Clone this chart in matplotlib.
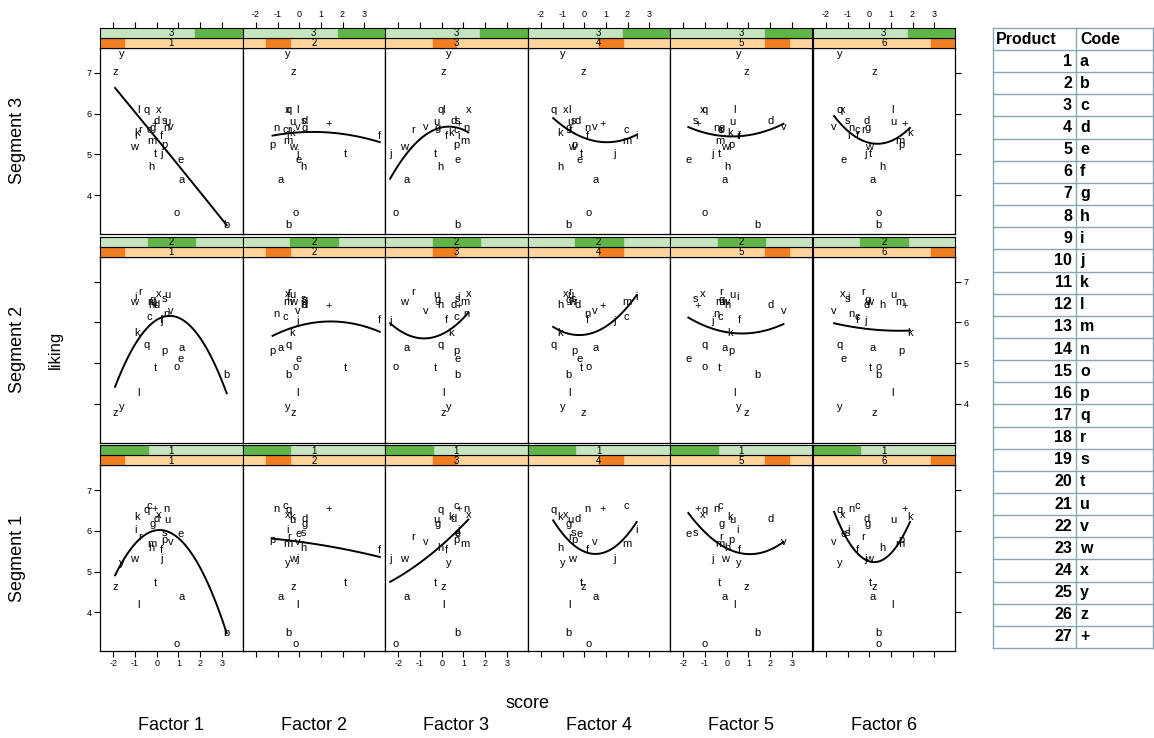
import matplotlib.pyplot as plt
from matplotlib.patches import Rectangle
import numpy as np

plt.rcParams['font.family'] = ['Liberation Sans', 'DejaVu Sans']
plt.rcParams['axes.unicode_minus'] = False

codes = list("abcdefghijklmnopqrstuvwxyz") + ["+"]
products = list(range(1, 28))

# product scores on each factor, order a..z, +
factor1 = [1.15, 3.23, -0.34, 0.00, 1.12, 0.20, -0.20, -0.26, -1.00, 0.20, -0.92, -0.85, -0.23,
           0.46, 0.92, 0.34, -0.46, -0.77, 0.35, -0.08, 0.49, 0.66, -1.05, 0.08, -1.62, -1.92, -0.08]
factor2 = [-0.85, -0.48, -0.63, 0.23, -0.02, 3.72, 0.26, 0.18, -0.55, -0.09, -0.35, -0.08, -0.51,
           -1.05, -0.17, -1.23, -0.48, -0.46, 0.22, 2.14, -0.32, -0.05, -0.28, -0.54, -0.54, -0.25, 1.34]
factor3 = [-1.62, 0.74, 0.69, 0.57, 0.72, 0.20, -0.20, -0.08, 0.77, -2.38, 0.43, 0.08, 1.08,
           1.12, -2.11, 0.66, -0.05, -1.31, 0.72, -0.31, -0.23, -0.72, -1.74, 1.23, 0.31, 0.08, 0.77]
factor4 = [0.54, -0.71, 1.95, -0.31, -0.23, 0.14, -0.74, -1.12, 2.42, 1.42, -1.12, -0.66, 1.98,
           0.14, 0.22, -0.43, -1.43, -0.63, -0.48, -0.15, -0.66, 0.49, -0.54, -0.85, -0.97, -0.02, 0.85]
factor5 = [-0.11, 1.43, -0.31, 2.05, -1.77, 0.57, -0.23, 0.03, 0.49, -0.66, 0.15, 0.35, -0.31,
           -0.46, -1.00, 0.23, -1.00, -0.26, -1.43, -0.35, 0.28, 2.62, -0.08, -1.12, 0.58, 0.92, -1.35]
factor6 = [0.15, 0.42, -0.54, -0.12, -1.20, -0.54, -0.09, 0.60, -0.97, -0.15, 1.88, 1.08, 1.42,
           -0.82, 0.42, 1.49, -1.35, -0.28, -1.00, 0.06, 1.11, -1.62, -0.02, -1.23, -1.35, 0.23, 1.62]
scores = [factor1, factor2, factor3, factor4, factor5, factor6]

# mean liking per segment
liking_seg1 = [4.38, 3.48, 6.61, 6.29, 5.92, 5.53, 6.16, 5.59, 6.03, 5.32, 6.34, 4.17, 5.69,
               6.53, 3.22, 5.77, 6.51, 5.85, 5.94, 4.71, 6.26, 5.72, 5.31, 6.39, 5.22, 4.62, 6.55]
liking_seg2 = [5.36, 4.71, 6.14, 6.43, 5.11, 6.07, 6.55, 6.43, 6.63, 6.04, 5.74, 4.27, 6.50,
               6.20, 4.91, 5.30, 5.44, 6.76, 6.58, 4.87, 6.67, 6.27, 6.51, 6.70, 3.93, 3.78, 6.40]
liking_seg3 = [4.37, 3.26, 5.61, 5.83, 4.85, 5.44, 5.65, 4.69, 5.44, 5.01, 5.52, 6.10, 5.33,
               5.64, 3.56, 5.22, 6.10, 5.60, 5.82, 5.01, 5.80, 5.67, 5.19, 6.10, 7.47, 7.02, 5.75]
liking = {1: liking_seg1, 2: liking_seg2, 3: liking_seg3}
seg_order = [3, 2, 1]

# quadratic smoother per panel: score at an inner point, and fitted liking at
# lowest score / inner point / highest score
smooth_xmid = {3: [0.65, 0.50, -0.15, 0.57, 0.23, 0.42],
               2: [0.54, 1.18, -0.69, -0.20, 0.85, 0.10],
               1: [0.23, 1.18, 0.00, 0.18, 1.08, 0.10]}
smooth_seg3 = [(6.63, 4.96, 3.26), (5.46, 5.55, 5.30), (4.40, 5.64, 5.54),
               (5.89, 5.32, 5.48), (5.67, 5.44, 5.75), (5.94, 5.26, 5.65)]
smooth_seg2 = [(4.42, 6.16, 4.26), (5.67, 6.02, 5.77), (5.98, 5.61, 6.24),
               (5.89, 5.69, 6.67), (6.12, 5.73, 5.96), (5.98, 5.83, 5.80)]
smooth_seg1 = [(4.91, 6.02, 3.49), (5.81, 5.64, 5.36), (4.75, 5.65, 6.28),
               (6.26, 5.46, 6.22), (6.44, 5.43, 5.73), (6.47, 5.24, 6.22)]
smooth_y = {1: smooth_seg1, 2: smooth_seg2, 3: smooth_seg3}

W, H = 1154, 738
fig = plt.figure(figsize=(W / 100, H / 100), dpi=100)


def box(x0, y0, x1, y1):
    return [x0 / W, 1 - y1 / H, (x1 - x0) / W, (y1 - y0) / H]


col_x = [100 + 142.5 * i for i in range(7)]
panel_top = [47.7, 256.5, 465]
panel_h = 186
strip_h = 10
xlim = (-2.617, 3.96)
ylim = (3.05, 7.62)
ticks_x = [-2, -1, 0, 1, 2, 3]
ticks_y = [4, 5, 6, 7]

green_lt, green_dk = '#c6e4bf', '#5fb548'
orange_lt, orange_dk = '#fdd49c', '#f07f23'


def strip(ax, level, nlev, lt, dk):
    ax.set_xlim(*xlim)
    ax.set_ylim(0, 1)
    ax.add_patch(Rectangle((0, 0), 1, 1, transform=ax.transAxes, color=lt, zorder=0))
    ax.add_patch(Rectangle(((level - 1) / nlev, 0), 1 / nlev, 1, transform=ax.transAxes,
                           color=dk, zorder=1))
    ax.text(0.5, 0.45, str(level), transform=ax.transAxes, ha='center', va='center',
            fontsize=7, zorder=2)
    ax.set_xticks([])
    ax.set_yticks([])
    for s in ax.spines.values():
        s.set_linewidth(0.8)


for r, seg in enumerate(seg_order):
    top = panel_top[r]
    for c in range(6):
        x0, x1 = col_x[c], col_x[c + 1]
        ax = fig.add_axes(box(x0, top, x1, top + panel_h))
        ax.set_xlim(*xlim)
        ax.set_ylim(*ylim)
        xs = np.array(scores[c])
        ys = np.array(liking[seg])
        for code, xv, yv in zip(codes, xs, ys):
            ax.text(xv, yv, code, ha='center', va='center', fontsize=8)

        # smoother through its three fitted values
        kx = [xs.min(), smooth_xmid[seg][c], xs.max()]
        coef = np.polyfit(kx, smooth_y[seg][c], 2)
        xg = np.linspace(xs.min(), xs.max(), 120)
        ax.plot(xg, np.polyval(coef, xg), color='black', lw=1.4)
        for s in ax.spines.values():
            s.set_linewidth(0.9)

        ax.tick_params(direction='out', length=4, width=0.8, labelsize=6.5, pad=2)
        ax.set_xticks(ticks_x)
        ax.set_yticks(ticks_y)
        ax.tick_params(axis='x', top=False, labeltop=False,
                       bottom=(r == 2), labelbottom=(r == 2 and c % 2 == 0))
        ax.tick_params(axis='y', left=(c == 0), labelleft=(c == 0 and r != 1),
                       right=(c == 5), labelright=(c == 5 and r == 1))

        # factor strip (lower) and segment strip (upper)
        sf = fig.add_axes(box(x0, top - strip_h, x1, top))
        strip(sf, c + 1, 6, orange_lt, orange_dk)
        sg = fig.add_axes(box(x0, top - 2 * strip_h, x1, top - strip_h))
        strip(sg, seg, 3, green_lt, green_dk)
        if r == 0:
            sg.set_xticks(ticks_x)
            sg.tick_params(axis='x', direction='out', length=4, width=0.8, labelsize=6.5,
                           pad=2, top=True, labeltop=(c % 2 == 1), bottom=False,
                           labelbottom=False)

# overlay in pixel units for labels and the product table
ov = fig.add_axes([0, 0, 1, 1])
ov.set_xlim(0, W)
ov.set_ylim(H, 0)
ov.axis('off')

for r, seg in enumerate(seg_order):
    ov.text(18, panel_top[r] + panel_h / 2, f"Segment {seg}", rotation=90,
            ha='center', va='center', fontsize=13)
ov.text(55, panel_top[1] + panel_h / 2, "liking", rotation=90, ha='center', va='center',
        fontsize=12)
ov.text((col_x[0] + col_x[6]) / 2, 704, "score", ha='center', va='center', fontsize=13)
for c in range(6):
    ov.text((col_x[c] + col_x[c + 1]) / 2, 726, f"Factor {c + 1}", ha='center', va='center',
            fontsize=13)

# product / code table
tx0, tx1, tx2 = 993, 1076, 1153
ty0, ty1 = 28, 50
row_h = 22.15
grid_c = '#86a6b6'
ty_end = ty1 + row_h * len(codes)
for yy in [ty0, ty1] + [ty1 + row_h * (i + 1) for i in range(len(codes))]:
    ov.plot([tx0, tx2], [yy, yy], color=grid_c, lw=1)
for xx in [tx0, tx1, tx2]:
    ov.plot([xx, xx], [ty0, ty_end], color=grid_c, lw=1)
ov.text(996, (ty0 + ty1) / 2, "Product", ha='left', va='center', fontsize=11.5,
        fontweight='bold')
ov.text(1080, (ty0 + ty1) / 2, "Code", ha='left', va='center', fontsize=11.5,
        fontweight='bold')
for i, (num, code) in enumerate(zip(products, codes)):
    yc = ty1 + row_h * (i + 0.5)
    ov.text(1072, yc, str(num), ha='right', va='center', fontsize=11.5, fontweight='bold')
    ov.text(1080, yc, code, ha='left', va='center', fontsize=11.5, fontweight='bold')

fig.savefig("out.png", dpi=100)
